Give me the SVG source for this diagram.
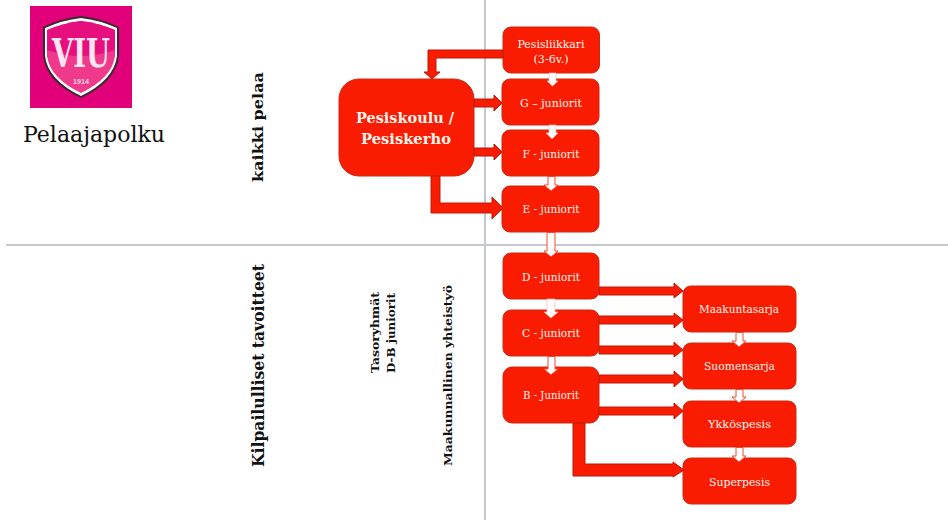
<svg xmlns="http://www.w3.org/2000/svg" width="948" height="520" viewBox="0 0 948 520">
<style>
text{font-family:"DejaVu Serif","Liberation Serif",serif}
.guide{stroke:#c5c9cf;stroke-width:2;fill:none}
.box{fill:#f91c00;stroke:#c92a14;stroke-width:1}
.lbl{fill:#fff3ee;font-size:11.5px;text-anchor:middle}
.big{fill:#fff3ee;font-size:15px;font-weight:bold;text-anchor:middle}
.ra{fill:#f91c00;stroke:#b81c08;stroke-width:1}
.wa{fill:#fff;stroke:#fbb9ad;stroke-width:.7}
.wr{fill:#fff;stroke:#f5482f;stroke-width:1}
.side{fill:#111;font-weight:bold}
</style>
<rect width="948" height="520" fill="#fff"/>
<g id="guides">
<path class="guide" d="M485 0V520"/>
<path class="guide" d="M6 245H948"/>
</g>
<g id="logo">
<rect x="30" y="6" width="102" height="102" fill="#e2007a"/>
<path d="M43 27Q62 18 81 16Q100 18 119 27L119 56Q116 82 81 98Q46 82 43 56Z" fill="#3a2a30"/>
<path d="M45 28Q63 20 81 18Q99 20 117 28L117 56Q114 80 81 96Q48 80 45 56Z" fill="#fff"/>
<path d="M47 30Q64 23 81 21Q98 23 115 30L115 56Q112 78 81 93Q50 78 47 56Z" fill="#f0398a"/>
<path d="M47 30Q64 23 81 21Q98 23 115 30L115 50Q81 62 47 50Z" fill="#e60f7d"/>
<text x="81" y="67" text-anchor="middle" font-size="40" font-weight="bold" fill="#fde6f0" textLength="58" lengthAdjust="spacingAndGlyphs">VIU</text>
<text x="81" y="84" text-anchor="middle" font-size="7" font-weight="bold" fill="#fbd5e5" style="font-family:'Liberation Sans',sans-serif" textLength="16" lengthAdjust="spacingAndGlyphs">1914</text>
</g>
<text id="title" x="23" y="142" font-size="22" fill="#111" textLength="142" lengthAdjust="spacingAndGlyphs">Pelaajapolku</text>
<g id="side-labels">
<text class="side" transform="translate(263 182) rotate(-90)" font-size="14" textLength="110" lengthAdjust="spacingAndGlyphs">kaikki pelaa</text>
<text class="side" transform="translate(264 467) rotate(-90)" font-size="16" textLength="203" lengthAdjust="spacingAndGlyphs">Kilpailulliset tavoitteet</text>
<text class="side" transform="translate(379 373) rotate(-90)" font-size="11" textLength="81" lengthAdjust="spacingAndGlyphs">Tasoryhmät</text>
<text class="side" transform="translate(395 373) rotate(-90)" font-size="11" textLength="80" lengthAdjust="spacingAndGlyphs">D-B juniorit</text>
<text class="side" transform="translate(452 466) rotate(-90)" font-size="11" textLength="181" lengthAdjust="spacingAndGlyphs">Maakunnallinen yhteistyö</text>
</g>
<g id="n-pesisliikkari"><rect class="box" x="503" y="27" width="96.500" height="46" rx="8"/><text class="lbl" x="551" y="48" textLength="67" lengthAdjust="spacingAndGlyphs">Pesisliikkari</text><text class="lbl" x="551" y="63" textLength="35" lengthAdjust="spacingAndGlyphs">(3-6v.)</text></g>
<g id="n-pesiskoulu"><rect class="box" x="339" y="79" width="135" height="97" rx="20"/><text class="big" x="405" y="123" textLength="98" lengthAdjust="spacingAndGlyphs">Pesiskoulu /</text><text class="big" x="406" y="144" textLength="90" lengthAdjust="spacingAndGlyphs">Pesiskerho</text></g>
<g id="n-g"><rect class="box" x="502" y="79" width="97" height="46" rx="8"/><text class="lbl" x="551" y="107" textLength="62" lengthAdjust="spacingAndGlyphs">G – juniorit</text></g>
<g id="n-f"><rect class="box" x="502" y="130" width="97" height="46" rx="8"/><text class="lbl" x="551" y="158" textLength="57" lengthAdjust="spacingAndGlyphs">F - juniorit</text></g>
<g id="n-e"><rect class="box" x="502" y="186" width="97" height="46" rx="8"/><text class="lbl" x="551" y="213" textLength="57" lengthAdjust="spacingAndGlyphs">E - juniorit</text></g>
<g id="n-d"><rect class="box" x="503" y="253" width="96" height="46" rx="8"/><text class="lbl" x="551" y="281" textLength="58" lengthAdjust="spacingAndGlyphs">D - juniorit</text></g>
<g id="n-c"><rect class="box" x="503" y="310" width="96" height="46" rx="8"/><text class="lbl" x="551" y="337" textLength="58" lengthAdjust="spacingAndGlyphs">C - juniorit</text></g>
<g id="n-b"><rect class="box" x="503" y="367" width="96" height="56" rx="9"/><text class="lbl" x="551" y="399" textLength="56" lengthAdjust="spacingAndGlyphs">B - Juniorit</text></g>
<g id="n-maakuntasarja"><rect class="box" x="683" y="286" width="113" height="46" rx="8"/><text class="lbl" x="739" y="313" textLength="80" lengthAdjust="spacingAndGlyphs">Maakuntasarja</text></g>
<g id="n-suomensarja"><rect class="box" x="683" y="343" width="113" height="46" rx="8"/><text class="lbl" x="739.500" y="370" textLength="71" lengthAdjust="spacingAndGlyphs">Suomensarja</text></g>
<g id="n-ykkospesis"><rect class="box" x="683" y="401" width="113" height="46" rx="8"/><text class="lbl" x="739.500" y="428" textLength="63" lengthAdjust="spacingAndGlyphs">Ykköspesis</text></g>
<g id="n-superpesis"><rect class="box" x="683" y="458" width="113" height="46" rx="8"/><text class="lbl" x="739.500" y="486" textLength="61" lengthAdjust="spacingAndGlyphs">Superpesis</text></g>
<g id="connectors">
<path class="ra" d="M503 50H428V72H424L432 79L440 72H436V58H503Z"/>
<path class="ra" d="M474 99H494V95L502 103L494 111V107H474Z"/>
<path class="ra" d="M474 148H494V144L502 152L494 160V156H474Z"/>
<path class="ra" d="M431 176H440V203H492V197L503 208L492 219V213H431Z"/>
<path class="ra" d="M599 287H674V283L683 291L674 298V295H599Z"/>
<path class="ra" d="M599 316H674V313L683 320L674 328V324H599Z"/>
<path class="ra" d="M599 346H674V342L683 350L674 357V354H599Z"/>
<path class="ra" d="M599 375H674V371L683 379L674 387V383H599Z"/>
<path class="ra" d="M599 407H674V403L683 411L674 419V415H599Z"/>
<path class="ra" d="M573 423H585V464H673V462L684 470L673 477V476H573Z"/>
<path class="wa" d="M549 73H556V81H558L552.500 86L547 81H549Z"/>
<path class="wa" d="M549 125H556V133H558L552 139L546 133H549Z"/>
<path class="wr" d="M548 176.500H555V185H558L551 191L544 185H548Z"/>
<path class="wr" d="M547 232.500H555V251H558L551 257L544 251H547Z"/>
<path class="wa" d="M547 299H555V312H558L551 318L544 312H547Z"/>
<path class="wr" d="M548 356.500H555V369H558L551 375L544 369H548Z"/>
<path class="wr" d="M736 332.500H743V341H746L739 347L732 341H736Z"/>
<path class="wr" d="M736 389.500H743V397H746L739 403L732 397H736Z"/>
<path class="wr" d="M736 447.500H743V456H746L739 462L732 456H736Z"/>
</g>
</svg>
